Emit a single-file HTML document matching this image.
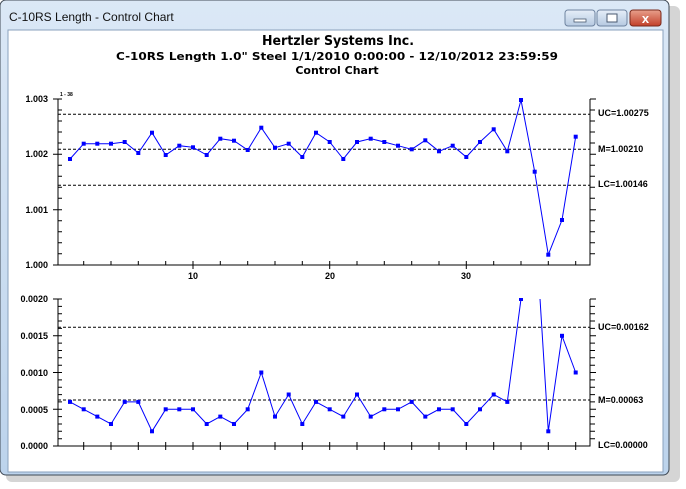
<!DOCTYPE html>
<html><head><style>
html,body{margin:0;padding:0;width:686px;height:489px;overflow:hidden;background:#fff;}
</style></head><body>
<svg width="686" height="489" xmlns="http://www.w3.org/2000/svg" font-family="Liberation Sans, sans-serif">
<defs>
<linearGradient id="tb" x1="0" y1="0" x2="0" y2="1"><stop offset="0" stop-color="#dbe8f6"/><stop offset="1" stop-color="#bcd3ec"/></linearGradient>
<linearGradient id="btn" x1="0" y1="0" x2="0" y2="1"><stop offset="0" stop-color="#e6eef8"/><stop offset="1" stop-color="#b5c9e1"/></linearGradient>
<linearGradient id="cls" x1="0" y1="0" x2="0" y2="1"><stop offset="0" stop-color="#e8a08c"/><stop offset="1" stop-color="#c2402a"/></linearGradient>
<clipPath id="c2"><rect x="58" y="299" width="532" height="150"/></clipPath>
</defs>
<rect x="6" y="6" width="674" height="476" rx="6" fill="#888" opacity="0.35"/>
<rect x="0" y="0" width="669" height="475" rx="6" fill="url(#tb)" stroke="#404a55" stroke-width="1"/>
<rect x="8" y="30" width="655" height="442" fill="#fff" stroke="#8aa2bd" stroke-width="1"/>
<text x="9" y="21" font-size="12" fill="#111">C-10RS Length - Control Chart</text>
<rect x="565" y="10" width="30" height="16" rx="3" fill="url(#btn)" stroke="#6f84a0"/>
<rect x="574" y="19" width="12" height="3" fill="#fff" stroke="#4a5a70" stroke-width="0.8"/>
<rect x="597" y="10" width="30" height="16" rx="3" fill="url(#btn)" stroke="#6f84a0"/>
<rect x="607" y="14" width="10" height="8" fill="#fff" stroke="#4a5a70" stroke-width="1"/>
<rect x="630" y="10" width="31" height="16" rx="3" fill="url(#cls)" stroke="#7a2a1c"/>
<text x="645.5" y="23" font-size="13" font-weight="bold" fill="#fff" text-anchor="middle">x</text>

<g font-weight="bold" text-anchor="middle" fill="#000" font-family="DejaVu Sans, sans-serif" xml:space="preserve" style="white-space:pre">
<text x="338" y="45" font-size="13" textLength="152" lengthAdjust="spacingAndGlyphs">Hertzler Systems Inc.</text>
<text x="337" y="60" font-size="11" textLength="442" lengthAdjust="spacingAndGlyphs">C-10RS Length   1.0" Steel   1/1/2010 0:00:00 - 12/10/2012 23:59:59</text>
<text x="337" y="74" font-size="11">Control Chart</text>
</g>

<g stroke="#000" stroke-width="1" fill="none">
<path d="M58 99V265H590V99"/>
<path d="M58 99h-5M58 154.3h-5M58 209.7h-5M58 265h-5"/>
<path d="M58 110h4M58 121h4M58 132h4M58 143h4M58 165.3h4M58 176.3h4M58 187.3h4M58 198.3h4M58 220.7h4M58 231.7h4M58 242.7h4M58 253.7h4M58 99h4M58 154.3h4M58 209.7h4"/>
<path d="M590 99h6M590 110h5M590 121h5M590 132h5M590 143h5M590 154.3h6M590 165.3h5M590 176.3h5M590 187.3h5M590 198.3h5M590 209.7h6M590 220.7h5M590 231.7h5M590 242.7h5M590 253.7h5"/>
<path d="M83.7 261v4M111 261v4M138.3 261v4M165.7 261v4M193 261v8M220.3 261v4M247.7 261v4M275 261v4M302.3 261v4M329.7 261v8M357 261v4M384.3 261v4M411.7 261v4M439 261v4M466.3 261v8M493.7 261v4M521 261v4M548.3 261v4M575.7 261v4"/>
</g>
<g stroke="#000" stroke-dasharray="3,2" stroke-width="1">
<line x1="58" y1="114.3" x2="590" y2="114.3"/>
<line x1="58" y1="149.3" x2="590" y2="149.3"/>
<line x1="58" y1="185.3" x2="590" y2="185.3"/>
</g>
<g font-size="9" font-weight="bold" fill="#000">
<text x="48" y="102" text-anchor="end">1.003</text>
<text x="48" y="157" text-anchor="end">1.002</text>
<text x="48" y="213" text-anchor="end">1.001</text>
<text x="48" y="268" text-anchor="end">1.000</text>
<text x="193" y="279" text-anchor="middle">10</text>
<text x="330" y="279" text-anchor="middle">20</text>
<text x="466" y="279" text-anchor="middle">30</text>
<text x="598" y="116">UC=1.00275</text>
<text x="598" y="152">M=1.00210</text>
<text x="598" y="187">LC=1.00146</text>
<text x="60" y="96" font-size="5">1 - 38</text>
</g>
<polyline fill="none" stroke="#0000ff" stroke-width="1" points="70,159 83.7,143.7 97.3,143.7 111,143.7 124.7,142 138.3,153 152,132.7 165.7,155 179.3,145.7 193,147.3 206.7,155 220.3,138.7 234,140.7 247.7,150 261.3,127.7 275,147.7 288.7,143.7 302.3,157 316,132.7 329.7,142 343.3,159 357,142 370.7,138.7 384.3,142 398,145.7 411.7,149.3 425.3,140.3 439,151.3 452.7,145.7 466.3,157 480,142 493.7,129.3 507.3,151.3 521,100 534.7,171.7 548.3,254.7 562,220 575.7,136.7"/>
<g fill="#0000ff">
<rect x="68" y="157" width="4" height="4"/><rect x="81.7" y="141.7" width="4" height="4"/><rect x="95.3" y="141.7" width="4" height="4"/><rect x="109" y="141.7" width="4" height="4"/><rect x="122.7" y="140" width="4" height="4"/><rect x="136.3" y="151" width="4" height="4"/><rect x="150" y="130.7" width="4" height="4"/><rect x="163.7" y="153" width="4" height="4"/><rect x="177.3" y="143.7" width="4" height="4"/><rect x="191" y="145.3" width="4" height="4"/><rect x="204.7" y="153" width="4" height="4"/><rect x="218.3" y="136.7" width="4" height="4"/><rect x="232" y="138.7" width="4" height="4"/><rect x="245.7" y="148" width="4" height="4"/><rect x="259.3" y="125.7" width="4" height="4"/><rect x="273" y="145.7" width="4" height="4"/><rect x="286.7" y="141.7" width="4" height="4"/><rect x="300.3" y="155" width="4" height="4"/><rect x="314" y="130.7" width="4" height="4"/><rect x="327.7" y="140" width="4" height="4"/><rect x="341.3" y="157" width="4" height="4"/><rect x="355" y="140" width="4" height="4"/><rect x="368.7" y="136.7" width="4" height="4"/><rect x="382.3" y="140" width="4" height="4"/><rect x="396" y="143.7" width="4" height="4"/><rect x="409.7" y="147.3" width="4" height="4"/><rect x="423.3" y="138.3" width="4" height="4"/><rect x="437" y="149.3" width="4" height="4"/><rect x="450.7" y="143.7" width="4" height="4"/><rect x="464.3" y="155" width="4" height="4"/><rect x="478" y="140" width="4" height="4"/><rect x="491.7" y="127.3" width="4" height="4"/><rect x="505.3" y="149.3" width="4" height="4"/><rect x="519" y="98" width="4" height="4"/><rect x="532.7" y="169.7" width="4" height="4"/><rect x="546.3" y="252.7" width="4" height="4"/><rect x="560" y="218" width="4" height="4"/><rect x="573.7" y="134.7" width="4" height="4"/>
</g>

<g stroke="#000" stroke-width="1" fill="none">
<path d="M58 299V446H590V299"/>
<path d="M58 299h-5M58 335.8h-5M58 372.5h-5M58 409.3h-5M58 446h-5"/>
<path d="M58 306.4h4M58 313.7h4M58 321h4M58 328.4h4M58 343.1h4M58 350.5h4M58 357.8h4M58 365.2h4M58 379.9h4M58 387.2h4M58 394.6h4M58 401.9h4M58 416.6h4M58 424h4M58 431.3h4M58 438.7h4M58 299h4M58 335.8h4M58 372.5h4M58 409.3h4"/>
<path d="M590 299h6M590 306.4h5M590 313.7h5M590 321h5M590 328.4h5M590 335.8h6M590 343.1h5M590 350.5h5M590 357.8h5M590 365.2h5M590 372.5h6M590 379.9h5M590 387.2h5M590 394.6h5M590 401.9h5M590 409.3h6M590 416.6h5M590 424h5M590 431.3h5M590 438.7h5"/>
<path d="M83.7 442v8M111 442v8M138.3 442v8M165.7 442v8M193 442v8M220.3 442v8M247.7 442v8M275 442v8M302.3 442v8M329.7 442v8M357 442v8M384.3 442v8M411.7 442v8M439 442v8M466.3 442v8M493.7 442v8M521 442v8M548.3 442v8M575.7 442v8"/>
</g>
<g stroke="#000" stroke-dasharray="3,2" stroke-width="1">
<line x1="58" y1="327.3" x2="590" y2="327.3"/>
<line x1="58" y1="400" x2="590" y2="400"/>
</g>
<g font-size="9" font-weight="bold" fill="#000">
<text x="48" y="302" text-anchor="end">0.0020</text>
<text x="48" y="339" text-anchor="end">0.0015</text>
<text x="48" y="376" text-anchor="end">0.0010</text>
<text x="48" y="413" text-anchor="end">0.0005</text>
<text x="48" y="449" text-anchor="end">0.0000</text>
<text x="598" y="330">UC=0.00162</text>
<text x="598" y="403">M=0.00063</text>
<text x="598" y="448">LC=0.00000</text>
</g>
<g clip-path="url(#c2)">
<polyline fill="none" stroke="#0000ff" stroke-width="1" points="70,401.9 83.7,409.3 97.3,416.6 111,424 124.7,401.9 138.3,401.9 152,431.3 165.7,409.3 179.3,409.3 193,409.3 206.7,424 220.3,416.6 234,424 247.7,409.3 261.3,372.5 275,416.6 288.7,394.5 302.3,424 316,401.9 329.7,409.3 343.3,416.6 357,394.5 370.7,416.6 384.3,409.3 398,409.3 411.7,401.9 425.3,416.6 439,409.3 452.7,409.3 466.3,424 480,409.3 493.7,394.5 507.3,401.9 521,299 534.7,214 548.3,431.3 562,335.8 575.7,372.5"/>
</g>
<g fill="#0000ff">
<rect x="68" y="399.9" width="4" height="4"/><rect x="81.7" y="407.3" width="4" height="4"/><rect x="95.3" y="414.6" width="4" height="4"/><rect x="109" y="422" width="4" height="4"/><rect x="122.7" y="399.9" width="4" height="4"/><rect x="136.3" y="399.9" width="4" height="4"/><rect x="150" y="429.3" width="4" height="4"/><rect x="163.7" y="407.3" width="4" height="4"/><rect x="177.3" y="407.3" width="4" height="4"/><rect x="191" y="407.3" width="4" height="4"/><rect x="204.7" y="422" width="4" height="4"/><rect x="218.3" y="414.6" width="4" height="4"/><rect x="232" y="422" width="4" height="4"/><rect x="245.7" y="407.3" width="4" height="4"/><rect x="259.3" y="370.5" width="4" height="4"/><rect x="273" y="414.6" width="4" height="4"/><rect x="286.7" y="392.5" width="4" height="4"/><rect x="300.3" y="422" width="4" height="4"/><rect x="314" y="399.9" width="4" height="4"/><rect x="327.7" y="407.3" width="4" height="4"/><rect x="341.3" y="414.6" width="4" height="4"/><rect x="355" y="392.5" width="4" height="4"/><rect x="368.7" y="414.6" width="4" height="4"/><rect x="382.3" y="407.3" width="4" height="4"/><rect x="396" y="407.3" width="4" height="4"/><rect x="409.7" y="399.9" width="4" height="4"/><rect x="423.3" y="414.6" width="4" height="4"/><rect x="437" y="407.3" width="4" height="4"/><rect x="450.7" y="407.3" width="4" height="4"/><rect x="464.3" y="422" width="4" height="4"/><rect x="478" y="407.3" width="4" height="4"/><rect x="491.7" y="392.5" width="4" height="4"/><rect x="505.3" y="399.9" width="4" height="4"/><rect x="519" y="298" width="4" height="3"/><rect x="546.3" y="429.3" width="4" height="4"/><rect x="560" y="333.8" width="4" height="4"/><rect x="573.7" y="370.5" width="4" height="4"/>
</g>
</svg>
</body></html>
